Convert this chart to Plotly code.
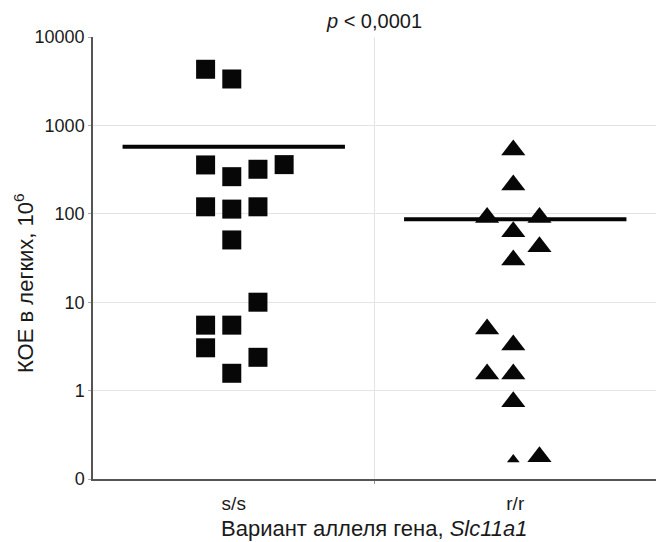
import plotly.graph_objects as go

# ---- data ----
categories = ["s/s", "r/r"]

ss_values = [4315, 3350, 357, 263, 319, 360, 120, 113, 120, 50.6, 10, 5.5, 5.5, 3.05, 2.38, 1.57]
ss_column = [-1, 0, -1, 0, 1, 2, -1, 0, 1, 0, 1, -1, 0, -1, 1, 0]

rr_values = [527, 212, 90.8, 90.8, 62.8, 42.5, 30, 4.98, 3.28, 1.54, 1.54, 0.75, 0.166, 0.179]
rr_column = [0, 0, -1, 1, 0, 1, 0, -1, 0, -1, 0, 0, 0, 1]

group_lines = [574, 87]  # horizontal summary lines per group

ytick_vals = [0.1, 1, 10, 100, 1000, 10000]
ytick_text = ["0", "1", "10", "100", "1000", "10000"]

# ---- styling / layout helpers ----
FONT = "Liberation Sans, Arial, sans-serif"
TXT = "#1a1a1a"
STEP = 0.093
CENTER_SHIFT = -0.007
HALF = 0.395
W, H = 656, 534  # page body has an 8px margin

def xpos(cat_idx, cols):
    return [cat_idx + 0.5 + CENTER_SHIFT + c * STEP for c in cols]

fig = go.Figure()

# summary lines
for i, v in enumerate(group_lines):
    c = i + 0.5
    fig.add_trace(go.Scatter(
        x=[c - HALF, c + HALF], y=[v, v], mode="lines",
        line=dict(color="#050505", width=4), showlegend=False, hoverinfo="skip"))

fig.add_trace(go.Scatter(
    x=xpos(0, ss_column), y=ss_values, mode="markers",
    marker=dict(symbol="square", size=19, color="#070707", opacity=1, line=dict(width=0)),
    showlegend=False, name=categories[0]))

rr_sizes = [21] * len(rr_values)
rr_sizes[12] = 11
fig.add_trace(go.Scatter(
    x=xpos(1, rr_column), y=rr_values, mode="markers",
    marker=dict(symbol="triangle-up", size=rr_sizes, color="#070707", opacity=1,
                line=dict(width=0)),
    showlegend=False, name=categories[1]))

fig.update_layout(
    width=W, height=H,
    margin=dict(l=85, r=8, t=29, b=63),
    paper_bgcolor="white", plot_bgcolor="white",
    font=dict(family=FONT, color=TXT, size=14),
    title=dict(text="<i>p</i> < 0,0001", x=0.5, xanchor="center", xref="paper",
               y=1 - 13 / H, yanchor="middle", font=dict(size=20, color=TXT)),
)

fig.update_xaxes(
    range=[0, 2], tickvals=[0.5, 1.5], ticktext=categories,
    ticks="", showgrid=False, zeroline=False,
    showline=True, linecolor="#555555", linewidth=1.5,
    tickfont=dict(size=19, color=TXT), ticklabelstandoff=6,
    minor=dict(tickvals=[1, 2], showgrid=True, gridcolor="#e4e4e4", gridwidth=1,
               ticks="outside", ticklen=3, tickcolor="#999999"),
)

fig.update_yaxes(
    type="log", range=[-1, 4],
    tickvals=ytick_vals, ticktext=ytick_text,
    showgrid=True, gridcolor="#e4e4e4", gridwidth=1.2, zeroline=False,
    showline=True, linecolor="#555555", linewidth=1.5,
    ticks="outside", ticklen=3, tickcolor="#aaaaaa",
    tickfont=dict(size=18, color=TXT),
)

fig.add_annotation(
    text="КОЕ в легких, 10<sup>6</sup>", textangle=-90,
    xref="paper", yref="paper", x=-0.123, y=0.443,
    xanchor="center", yanchor="middle", showarrow=False,
    font=dict(size=22, color=TXT))

fig.add_annotation(
    text="Вариант аллеля гена, <i>Slc11a1</i>",
    xref="paper", yref="paper", x=0.5, y=-0.113,
    xanchor="center", yanchor="middle", showarrow=False,
    font=dict(size=22, color=TXT))

fig.write_html("out.html")
